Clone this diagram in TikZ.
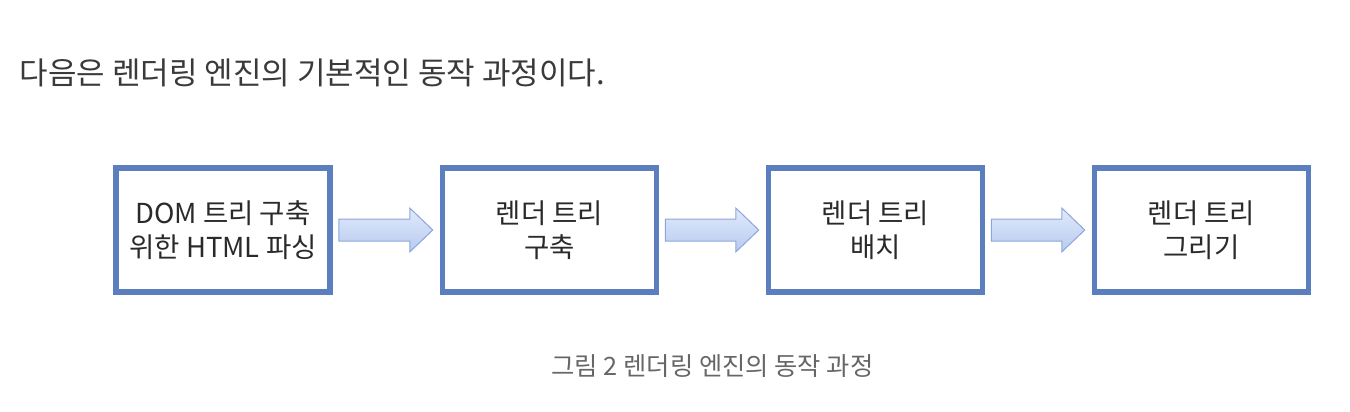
\documentclass[tikz,border=0pt]{standalone}
\usepackage{fontspec}
\usetikzlibrary{calc}
\setmainfont{Noto Sans CJK KR}
\definecolor{boxblue}{HTML}{5B7FBE}
\definecolor{arrowedge}{HTML}{8CA6DA}
\definecolor{arrowtop}{HTML}{E2EAFB}
\definecolor{arrowbot}{HTML}{B7CAF0}
\definecolor{headtext}{HTML}{3A3A3A}
\definecolor{captext}{HTML}{666666}
\definecolor{boxtext}{HTML}{2A2A2A}
\begin{document}
\begin{tikzpicture}[x=1pt,y=-1pt,
  stepbox/.style={draw=boxblue,line width=5.5pt,fill=white,minimum width=214pt,minimum height=124pt,inner sep=0pt,
    align=center,font=\fontsize{27.5}{34}\selectfont,text=boxtext},
  fatarrow/.style={draw=arrowedge,line width=1pt,top color=arrowtop,bottom color=arrowbot,line join=miter}]
\useasboundingbox (0,0) rectangle (1350,412);
\node[anchor=west,font=\fontsize{31}{34}\selectfont,text=headtext] (head) at (16,73) {다음은 렌더링 엔진의 기본적인 동작 과정이다.};
\node[stepbox] (b1) at (223,230) {DOM 트리 구축\\위한 HTML 파싱};
\node[stepbox] (b2) at (549.5,230) {렌더 트리\\구축};
\node[stepbox] (b3) at (875.5,230) {렌더 트리\\배치};
\node[stepbox] (b4) at (1201.5,230) {렌더 트리\\그리기};
\foreach \a/\b in {b1/b2,b2/b3,b3/b4}{
  \path (\a.east) ++(6,0) coordinate (s) (\b.west) ++(-7,0) coordinate (t);
  \draw[fatarrow] ($(s)+(0,-11)$) -- ($(t)+(-23,-11)$) -- ($(t)+(-23,-22)$) -- (t) -- ($(t)+(-23,22)$) -- ($(t)+(-23,11)$) -- ($(s)+(0,11)$) -- cycle;
}
\node[font=\fontsize{25.3}{28}\selectfont,text=captext] (cap) at (712.5,366) {그림 2 렌더링 엔진의 동작 과정};
\end{tikzpicture}
\end{document}
